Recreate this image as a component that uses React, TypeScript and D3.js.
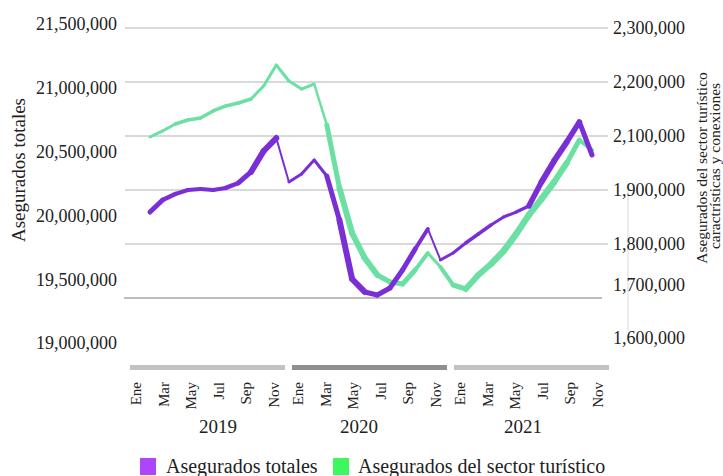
import React from 'react';
import * as d3 from 'd3';

// ---------- data ----------
const years = ['2019', '2020', '2021'];
const monthNames = ['Ene', 'Feb', 'Mar', 'Abr', 'May', 'Jun', 'Jul', 'Ago', 'Sep', 'Oct', 'Nov', 'Dic'];
const shownMonths = ['Ene', 'Mar', 'May', 'Jul', 'Sep', 'Nov'];

// Asegurados totales (left axis), Ene 2019 .. Dic 2021
const totalAsegurados = [
  19796000, 19907000, 19963000, 20000000, 20009000, 20000000, 20019000, 20065000, 20167000, 20361000, 20481000, 20074000,
  20148000, 20278000, 20130000, 19722000, 19176000, 19056000, 19028000, 19093000, 19259000, 19454000, 19639000, 19352000,
  19417000, 19509000, 19593000, 19676000, 19750000, 19796000, 19852000, 20074000, 20269000, 20444000, 20630000, 20324000,
];
// Asegurados del sector turístico (right axis)
const turismoAsegurados = [
  2096300, 2109300, 2122200, 2129600, 2133300, 2146300, 2155600, 2161100, 2168500, 2192600, 2231500, 2201900,
  2187000, 2196300, 2120400, 1907400, 1820400, 1765900, 1724400, 1707300, 1702400, 1736600, 1778000, 1743900,
  1700000, 1692500, 1724400, 1751200, 1782900, 1818500, 1853700, 1883300, 1929600, 2000000, 2085200, 2048100,
];
// stroke weight of each segment (as drawn in the original)
const totalWeights = [
  5, 4.5, 4, 4, 4, 4, 4.5, 5, 6, 6, 2, 3, 3, 3, 5, 6, 6, 5, 5, 5, 5, 4, 2, 3, 3, 3.5, 3.5, 3, 3, 3.5, 5.5, 6, 6, 5.5, 5,
];
const turismoWeights = [
  3, 3, 3.5, 3.5, 3.5, 3.5, 3.5, 3.5, 3, 3, 3, 3, 3, 2.5, 5, 6, 6, 6, 5, 5, 5, 4, 3, 4, 5, 6, 6, 6.5, 6.5, 6.5, 6.5, 6.5, 6, 5, 4,
];

const leftTicks = [21500000, 21000000, 20500000, 20000000, 19500000, 19000000];
const rightTicks = [2300000, 2200000, 2100000, 1900000, 1800000, 1700000, 1600000];
const gridValues = [21500000, 21000000, 20500000, 20000000, 19500000];
const baseValue = 19000000;

const legendItems = ['Asegurados totales', 'Asegurados del sector turístico'];
const rightTitle = ['Asegurados del sector turístico', 'caractrísticas y conexiones'];

// ---------- layout ----------
const W = 723;
const H = 476;
const FONT = "'Liberation Serif', 'Times New Roman', serif";
const PURPLE = '#7a2fd6';
const GREEN = '#6ce0a3';
const LEG_PURPLE = '#ac45fb';
const LEG_GREEN = '#3ef75e';
const yearLabelOffset = [88, 67, 69];

export default function App() {
  const yLeft = d3.scaleLinear().domain([19000000, 21500000]).range([298, 28]);
  const yLeftLabel = d3.scaleLinear().domain([19000000, 21500000]).range([343, 24]);
  const yRight = d3
    .scaleLinear()
    .domain([1600000, 1700000, 1800000, 1900000, 2100000, 2200000, 2300000])
    .range([338, 285, 244, 190, 136, 82, 28]);
  const xLine = d3.scaleLinear().domain([0, 35]).range([150, 592]);

  const yearBand = d3.scaleBand().domain(years).range([130, 609]).paddingInner(0.043);
  const monthPos = d3.scaleLinear().domain([0, 11]).range([6, 6 + 11 * 13.75]);

  const seg = d3
    .line<[number, number]>()
    .x((d) => d[0])
    .y((d) => d[1]);

  const segments = (vals: number[], scale: (v: number) => number, weights: number[]) =>
    weights.map((w, i) => ({
      d: seg([
        [xLine(i), scale(vals[i])],
        [xLine(i + 1), scale(vals[i + 1])],
      ]) as string,
      w,
    }));

  const purpleSegs = segments(totalAsegurados, (v) => yLeft(v), totalWeights);
  const greenSegs = segments(turismoAsegurados, (v) => yRight(v), turismoWeights);

  const fmt = d3.format(',');

  return (
    <svg
      width={W}
      height={H}
      style={{ position: 'absolute', left: 0, top: 0, background: '#fff' }}
      fontFamily={FONT}
    >
      <defs>
        <filter id="soft" x="-5%" y="-5%" width="110%" height="110%">
          <feGaussianBlur stdDeviation="0.45" />
        </filter>
      </defs>
      <rect width={W} height={H} fill="#fff" />

      {/* grid */}
      {gridValues.map((v) => (
        <line key={v} x1={125} x2={608} y1={yLeft(v)} y2={yLeft(v)} stroke="#b3b3b3" strokeWidth={1} />
      ))}
      <line x1={124} x2={602} y1={yLeft(baseValue)} y2={yLeft(baseValue)} stroke="#bdbdbd" strokeWidth={2.2} />
      <line x1={628} x2={628} y1={190} y2={330} stroke="#e6e6e6" strokeWidth={1.5} />

      {/* left ticks */}
      {leftTicks.map((v) => (
        <text key={v} x={117} y={yLeftLabel(v)} dy="0.35em" textAnchor="end" fontSize={18} fill="#222">
          {fmt(v)}
        </text>
      ))}
      {/* right ticks */}
      {rightTicks.map((v) => (
        <text key={v} x={613} y={yRight(v)} dy="0.35em" textAnchor="start" fontSize={18} fill="#222">
          {fmt(v)}
        </text>
      ))}

      {/* axis titles */}
      <text transform="translate(25,170) rotate(-90)" textAnchor="middle" fontSize={19} fill="#222">
        Asegurados totales
      </text>
      <text transform="translate(707,168) rotate(-90)" textAnchor="middle" fontSize={15.5} fill="#222">
        {rightTitle[0]}
      </text>
      <text transform="translate(719.5,166) rotate(-90)" textAnchor="middle" fontSize={15.5} fill="#222">
        {rightTitle[1]}
      </text>

      {/* lines */}
      <g filter="url(#soft)" fill="none" strokeLinecap="round" strokeLinejoin="round">
        {greenSegs.map((s, i) => (
          <path key={'g' + i} d={s.d} stroke={GREEN} strokeWidth={s.w} />
        ))}
        {purpleSegs.map((s, i) => (
          <path key={'p' + i} d={s.d} stroke={PURPLE} strokeWidth={s.w} />
        ))}
      </g>

      {/* x axis: year bands, months, years */}
      {years.map((y, yi) => {
        const x0 = yearBand(y) as number;
        return (
          <g key={y}>
            <rect
              x={x0}
              y={365}
              width={yearBand.bandwidth()}
              height={5}
              fill={yi === 1 ? '#8f8f8f' : '#c2c2c2'}
            />
            {shownMonths.map((m) => {
              const mx = x0 + monthPos(monthNames.indexOf(m));
              return (
                <text
                  key={m}
                  transform={`translate(${mx},382) rotate(-90)`}
                  dy="0.35em"
                  textAnchor="end"
                  fontSize={15}
                  fill="#222"
                >
                  {m}
                </text>
              );
            })}
            <text x={x0 + yearLabelOffset[yi]} y={433} textAnchor="middle" fontSize={19} fill="#222">
              {y}
            </text>
          </g>
        );
      })}

      {/* legend */}
      <rect x={140} y={458} width={16} height={17} fill={LEG_PURPLE} />
      <text x={166} y={473} fontSize={20} fill="#222">
        {legendItems[0]}
      </text>
      <rect x={333} y={458} width={16} height={17} fill={LEG_GREEN} />
      <text x={358} y={473} fontSize={20} fill="#222">
        {legendItems[1]}
      </text>
    </svg>
  );
}
